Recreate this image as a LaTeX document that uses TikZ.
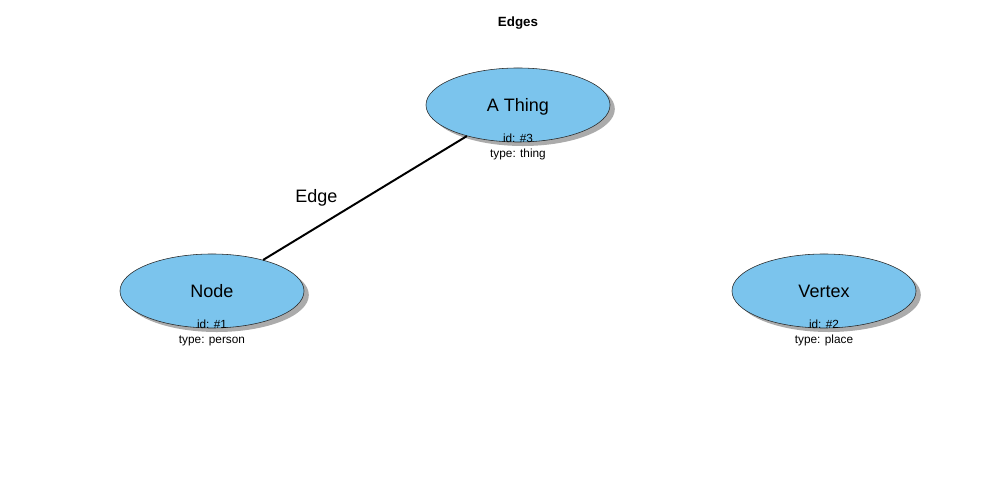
\documentclass[tikz,border=0pt]{standalone}
\usepackage{fontspec}
\setmainfont{Liberation Sans}
\usetikzlibrary{calc, shapes.geometric, shadows}
\definecolor{nodeblue}{RGB}{123,196,237}

\begin{document}
\begin{tikzpicture}[x={(0.025cm,0cm)},y={(0cm,-0.025cm)},
    vertex/.style={ellipse, draw=black!85, fill=nodeblue, minimum width=4.6cm, minimum height=1.85cm, inner sep=0pt,
        font=\fontsize{12.8}{14}\selectfont, text height=0.95em, text depth=0em,
        drop shadow={shadow xshift=0.12cm, shadow yshift=-0.1cm, fill=black!33, opacity=1}},
    info/.style={align=center, inner sep=0pt, font=\fontsize{8.4}{10.9}\selectfont}]
    \useasboundingbox (0,0) rectangle (1008,504);
    \node[font=\bfseries\fontsize{9.5}{11}\selectfont] (title) at (518,23) {Edges};
    \foreach \name/\x/\y/\label/\id/\kind in {thing/518/105/A Thing/3/thing, node/212/291/Node/1/person, vertex/824/291/Vertex/2/place}{
        \node[vertex] (\name) at (\x,\y) {\label};
        \node[info] (\name-info) at (\x,\y+42) {id: \#\id\\type: \kind};
    }
    \draw[line width=1.4pt] (node)--(thing) node[midway, left=0.55cm, font=\fontsize{12.8}{14}\selectfont]{Edge};
\end{tikzpicture}
\end{document}
